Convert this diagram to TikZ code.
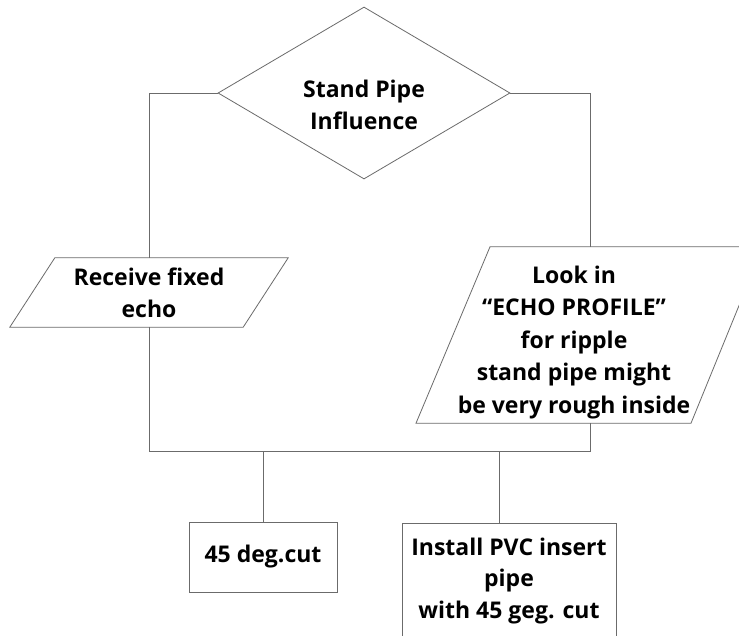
\documentclass[tikz,border=0pt]{standalone}
\usepackage{fontspec}
\setmainfont{Open Sans}
\usetikzlibrary{shapes.geometric}
\definecolor{linegray}{HTML}{6B6B6B}

\begin{document}
\begin{tikzpicture}[
x=1pt, y=-1pt,
every node/.style={font=\bfseries\fontsize{23}{32}\selectfont, align=center, inner sep=0pt},
line/.style={draw=linegray, line width=0.8pt},
decision/.style={diamond, aspect=1.7, line, minimum width=292pt, minimum height=172pt},
iobox/.style={rectangle},
process/.style={rectangle, line}
]
\useasboundingbox (0,0) rectangle (739,635);
\fill[white] (0,0) rectangle (739,635);

% Decision - Stand Pipe
\node[decision, text height=72pt, text depth=0pt] (stand) at (364,93) {Stand Pipe\\Influence};

% Input - left parallelogram
\node[iobox, minimum width=233pt, minimum height=69pt, text height=49pt, text depth=0pt] (recv) at (149,292.5) {Receive fixed\\echo};
\draw[line] ([xshift=22.5pt]recv.north west) -- ([xshift=22.5pt]recv.north east)
  -- ([xshift=-22.5pt]recv.south east) -- ([xshift=-22.5pt]recv.south west) -- cycle;

% Input - right parallelogram (runs past the right edge)
\node[iobox, minimum width=240pt, minimum height=176pt, text height=156pt, text depth=0pt,
  font=\bfseries\fontsize{23}{32.5}\selectfont] (look) at (574,335)
  {Look in\\“ECHO PROFILE”\\for ripple\\stand pipe might\\be very rough inside};
\draw[line] ([xshift=-84pt]look.north) -- ([xshift=189pt]look.north)
  -- ([xshift=117pt]look.south) -- ([xshift=-158pt]look.south) -- cycle;
\coordinate (lookin) at ([xshift=16pt]look.north);
\coordinate (lookout) at ([xshift=16pt]look.south);

% Results
\node[process, minimum width=148pt, minimum height=70pt] (cut) at (263,557) {45 deg.cut};
\node[process, anchor=north, minimum width=214pt, text height=95pt, text depth=40pt,
  font=\bfseries\fontsize{23}{31.5}\selectfont] (pvc) at (509,523)
  {Install PVC insert\\pipe\\with 45 geg. cut};
\coordinate (pvcin) at ([xshift=-10pt]pvc.north);

% Connectors
\coordinate (bus) at (149,451);
\draw[line] (stand.west) -| (recv.north);
\draw[line] (stand.east) -| (lookin);
\draw[line] (recv.south) -- (recv.south |- bus) -- (lookout |- bus) -- (lookout);
\draw[line] (bus -| cut.north) -- (cut.north);
\draw[line] (pvcin |- bus) -- (pvcin);

\end{tikzpicture}
\end{document}
